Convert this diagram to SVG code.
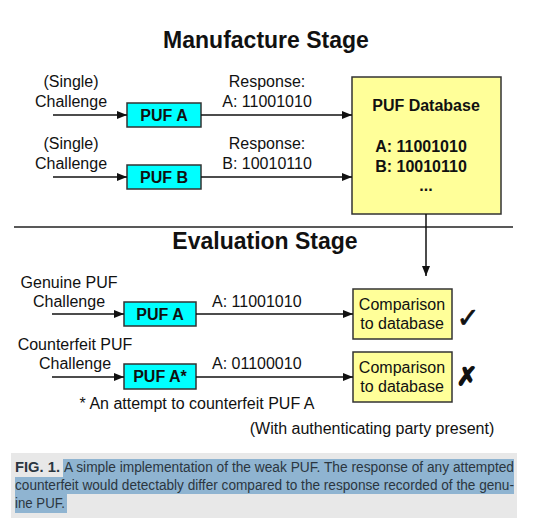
<svg xmlns="http://www.w3.org/2000/svg" width="536" height="530" viewBox="0 0 536 530">
<defs>
<marker id="ah" markerWidth="10" markerHeight="8" refX="10" refY="4" orient="auto" markerUnits="userSpaceOnUse">
<path d="M0,0 L10,4 L0,8 Z" fill="#111"/>
</marker>
<style>
.t{font-family:"Liberation Sans",Arial,sans-serif;font-size:16px;fill:#111}
.b{font-family:"Liberation Sans",Arial,sans-serif;font-size:16px;font-weight:bold;fill:#111}
.h{font-family:"Liberation Sans",Arial,sans-serif;font-size:23px;font-weight:bold;fill:#111}
.puf{fill:#00FFFF;stroke:#333;stroke-width:1.5}
.yel{fill:#FFFF99;stroke:#333;stroke-width:1.5}
.c line{stroke:#111;stroke-width:1.5}
.cap{font-family:"Liberation Sans Narrow","Liberation Sans",Arial,sans-serif;font-size:14px;fill:#2b3640}
.mk{font-family:"DejaVu Sans",sans-serif;fill:#111;stroke:#111}
</style>
</defs>
<rect width="536" height="530" fill="#fff"/>
<text class="h" x="266" y="48" text-anchor="middle">Manufacture Stage</text>
<text class="h" x="265" y="249" text-anchor="middle">Evaluation Stage</text>
<line x1="14" y1="227" x2="513" y2="227" stroke="#222" stroke-width="1.5"/>

<g id="labels-manufacture">
<text class="t" x="71" y="87" text-anchor="middle">(Single)</text>
<text class="t" x="71" y="107" text-anchor="middle">Challenge</text>
<text class="t" x="71" y="149" text-anchor="middle">(Single)</text>
<text class="t" x="71" y="169" text-anchor="middle">Challenge</text>
<text class="t" x="267" y="87" text-anchor="middle">Response:</text>
<text class="t" x="267" y="107" text-anchor="middle">A: 11001010</text>
<text class="t" x="267" y="149" text-anchor="middle">Response:</text>
<text class="t" x="267" y="169" text-anchor="middle">B: 10010110</text>
</g>

<g id="pufA">
<rect class="puf" x="127" y="103" width="74" height="24"/>
<text class="b" x="164" y="121" text-anchor="middle">PUF A</text>
</g>
<g id="pufB">
<rect class="puf" x="127" y="165" width="74" height="24"/>
<text class="b" x="164" y="183" text-anchor="middle">PUF B</text>
</g>
<g id="database">
<rect class="yel" x="352" y="77" width="149" height="137"/>
<text class="b" x="426" y="111" text-anchor="middle">PUF Database</text>
<text class="b" x="421" y="152" text-anchor="middle">A: 11001010</text>
<text class="b" x="421" y="172" text-anchor="middle">B: 10010110</text>
<text class="b" x="426" y="191" text-anchor="middle">...</text>
</g>

<g id="labels-evaluation">
<text class="t" x="69" y="288" text-anchor="middle">Genuine PUF</text>
<text class="t" x="69" y="307" text-anchor="middle">Challenge</text>
<text class="t" x="75" y="350" text-anchor="middle">Counterfeit PUF</text>
<text class="t" x="75" y="369" text-anchor="middle">Challenge</text>
<text class="t" x="212" y="307">A: 11001010</text>
<text class="t" x="212" y="369">A: 01100010</text>
<text class="t" x="197" y="409" text-anchor="middle">* An attempt to counterfeit PUF A</text>
<text class="t" x="372" y="434" text-anchor="middle">(With authenticating party present)</text>
</g>

<g id="pufA-eval">
<rect class="puf" x="124" y="302" width="72" height="24"/>
<text class="b" x="160" y="320" text-anchor="middle">PUF A</text>
</g>
<g id="pufAstar">
<rect class="puf" x="124" y="364" width="72" height="25"/>
<text class="b" x="160" y="382" text-anchor="middle">PUF A*</text>
</g>
<g id="compare1">
<rect class="yel" x="353" y="289" width="99" height="50"/>
<text class="t" x="402" y="310" text-anchor="middle">Comparison</text>
<text class="t" x="402" y="329" text-anchor="middle">to database</text>
<text class="mk" x="468" y="327" text-anchor="middle" font-size="27" stroke-width="0.8">✓</text>
</g>
<g id="compare2">
<rect class="yel" x="353" y="352" width="99" height="50"/>
<text class="t" x="402" y="373" text-anchor="middle">Comparison</text>
<text class="t" x="402" y="392" text-anchor="middle">to database</text>
<text class="mk" x="467" y="385" text-anchor="middle" font-size="25" stroke-width="1.6">✗</text>
</g>

<g id="connectors" class="c">
<line x1="53" y1="115" x2="127" y2="115" marker-end="url(#ah)"/>
<line x1="201" y1="115" x2="352" y2="115" marker-end="url(#ah)"/>
<line x1="53" y1="177" x2="127" y2="177" marker-end="url(#ah)"/>
<line x1="201" y1="177" x2="352" y2="177" marker-end="url(#ah)"/>
<line x1="426" y1="214" x2="426" y2="276" marker-end="url(#ah)"/>
<line x1="52" y1="314" x2="124" y2="314" marker-end="url(#ah)"/>
<line x1="196" y1="314" x2="353" y2="314" marker-end="url(#ah)"/>
<line x1="52" y1="377" x2="124" y2="377" marker-end="url(#ah)"/>
<line x1="196" y1="377" x2="353" y2="377" marker-end="url(#ah)"/>
</g>

<g id="caption">
<rect x="11" y="453" width="506" height="65" fill="#e8e8e8"/>
<rect x="63" y="459" width="451" height="18" fill="#8fb4d1"/>
<rect x="15" y="477" width="499" height="17" fill="#8fb4d1"/>
<rect x="15" y="494" width="52" height="19" fill="#8fb4d1"/>
<text class="cap" x="15" y="472" font-weight="bold" fill="#222" textLength="45" lengthAdjust="spacingAndGlyphs">FIG. 1.</text>
<text class="cap" x="64" y="472" textLength="450" lengthAdjust="spacingAndGlyphs">A simple implementation of the weak PUF. The response of any attempted</text>
<text class="cap" x="15" y="490" textLength="499" lengthAdjust="spacingAndGlyphs">counterfeit would detectably differ compared to the response recorded of the genu-</text>
<text class="cap" x="15" y="508" textLength="50" lengthAdjust="spacingAndGlyphs">ine PUF.</text>
</g>
</svg>
